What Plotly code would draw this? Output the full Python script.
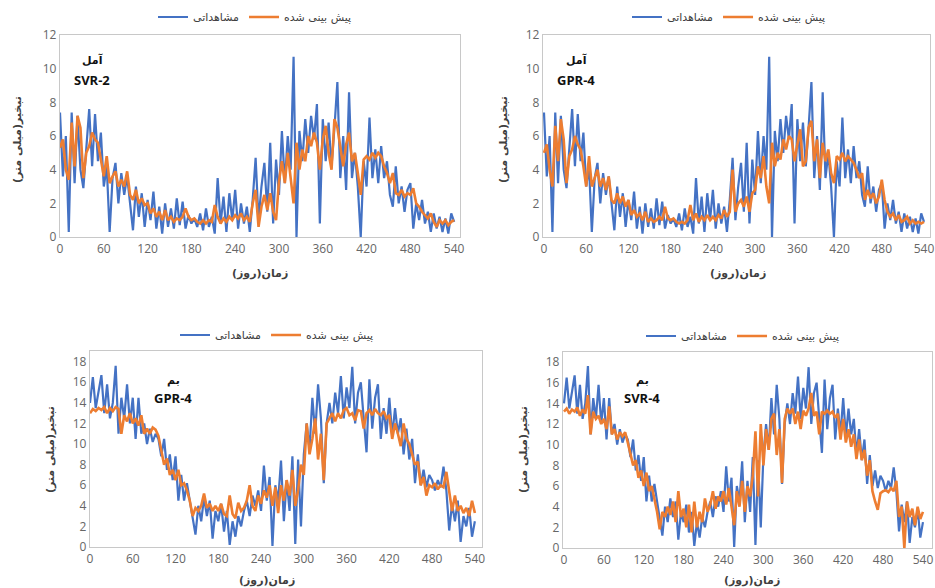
import plotly.graph_objects as go

W, H = 935, 588

# day index (sampled every 4 days)
days = list(range(0, 541, 4))

obs_amol = [7.4, 3.6, 6.0, 0.3, 7.4, 3.2, 7.2, 4.0, 2.9, 5.5, 7.6, 4.2, 7.3, 4.5, 6.2, 3.0, 4.2, 0.3, 3.5, 4.4,
            2.0, 3.8, 2.5, 3.6, 2.0, 0.4, 3.0, 1.2, 2.6, 0.6, 2.2, 1.0, 2.7, 0.5, 1.8, 0.2, 2.0, 0.6, 1.7, 0.5,
            2.3, 0.7, 2.1, 0.5, 1.3, 0.8, 1.1, 0.6, 1.4, 0.4, 1.7, 0.6, 1.2, 0.2, 3.5, 0.8, 2.4, 0.3, 2.6, 1.0,
            2.8, 0.5, 2.0, 0.8, 1.8, 0.3, 2.2, 4.7, 1.0, 3.0, 4.4, 1.5, 5.6, 0.8, 4.6, 2.5, 6.3, 3.2, 6.0, 4.0,
            10.7, 0.0, 6.3, 4.5, 7.0, 5.0, 7.2, 5.8, 7.9, 0.8, 7.0, 4.5, 6.8, 4.2, 6.5, 9.2, 3.5, 6.0, 2.8, 8.6,
            3.5, 5.0, 3.0, 0.0, 4.5, 3.0, 7.1, 3.5, 5.2, 3.2, 5.4, 3.5, 4.5, 2.5, 1.8, 4.2, 2.0, 3.0, 1.5, 2.8,
            3.2, 0.5, 2.0, 1.0, 2.2, 0.8, 1.5, 0.3, 1.4, 0.5, 1.2, 0.3, 1.1, 0.2, 1.4, 0.9]

pred_amol_svr2 = [5.3, 5.8, 4.0, 3.4, 6.8, 4.2, 7.2, 6.5, 3.5, 5.0, 5.4, 6.2, 5.8, 5.6, 4.6, 3.6, 4.8, 3.2, 3.6, 3.9,
                  3.0, 3.4, 3.0, 3.9, 2.5, 2.2, 2.8, 2.0, 2.3, 1.9, 2.0, 1.4, 1.7, 1.2, 1.5, 1.0, 1.6, 1.0, 1.2, 0.9,
                  1.1, 1.0, 1.2, 1.7, 1.2, 1.0, 1.1, 0.9, 0.8, 1.0, 0.8, 1.0, 0.9, 1.9, 1.2, 0.8, 1.1, 0.9, 1.2, 1.0,
                  1.3, 1.1, 1.4, 1.0, 1.2, 0.9, 2.0, 2.8, 0.6, 1.8, 2.5, 1.6, 2.6, 1.5, 1.0, 3.3, 4.5, 3.2, 5.0, 3.5,
                  2.0, 5.6, 4.0, 5.2, 4.5, 6.0, 5.4, 6.2, 5.6, 4.0, 5.8, 6.6, 5.0, 4.0, 7.0, 6.5, 5.2, 4.2, 5.5, 6.2,
                  4.5, 5.0, 3.8, 2.5, 4.6, 4.8, 4.6, 5.0, 4.7, 5.0, 4.8, 4.2, 3.8, 3.2, 3.8, 2.6, 2.5, 2.8, 2.4, 2.6,
                  2.5, 2.9, 2.0, 1.8, 1.5, 1.3, 1.1, 1.4, 0.9, 0.6, 1.0, 0.8, 1.0, 0.7, 0.9, 1.0]

pred_amol_gpr4 = [5.0, 5.5, 4.0, 3.0, 6.6, 4.5, 7.0, 5.8, 3.2, 4.8, 5.2, 6.0, 5.5, 5.2, 4.2, 3.0, 4.8, 3.0, 3.5, 4.0,
                  3.0, 3.5, 2.8, 3.6, 2.2, 2.0, 2.6, 2.0, 2.4, 1.8, 2.2, 1.3, 1.6, 1.2, 1.4, 1.0, 1.5, 0.9, 1.1, 0.9,
                  1.0, 1.2, 1.0, 1.8, 1.1, 1.0, 1.1, 0.9, 0.8, 0.9, 0.8, 1.0, 1.9, 1.0, 1.4, 0.9, 1.2, 1.0, 1.3, 1.0,
                  1.2, 1.0, 1.3, 1.1, 1.6, 1.2, 1.5, 4.0, 1.5, 2.0, 2.2, 1.8, 2.4, 1.5, 2.6, 2.8, 4.2, 3.5, 4.8, 3.0,
                  2.0, 5.6, 4.2, 5.0, 4.6, 5.8, 5.2, 6.0, 5.8, 4.5, 5.5, 6.4, 4.2, 4.5, 6.5, 6.9, 4.5, 5.8, 3.5, 5.6,
                  4.5, 5.2, 3.8, 3.2, 4.8, 4.6, 5.0, 4.5, 4.8, 4.6, 4.4, 4.0, 3.5, 3.8, 2.2, 2.8, 2.3, 2.6, 2.0, 2.4,
                  3.4, 2.2, 1.5, 1.2, 1.4, 1.0, 1.3, 0.9, 1.0, 1.2, 0.8, 1.0, 0.8, 0.9, 0.8, 0.9]

obs_bam = [14.0, 16.5, 13.5, 15.0, 16.7, 13.0, 15.8, 12.5, 14.0, 17.6, 11.0, 14.5, 12.5, 15.8, 12.0, 14.5, 10.5, 14.5, 11.0, 12.0,
           10.0, 11.5, 10.2, 11.0, 10.5, 8.8, 10.5, 7.5, 9.0, 6.5, 8.8, 4.5, 7.0, 4.5, 6.2, 4.5, 3.0, 1.2, 4.0, 2.5,
           4.8, 3.0, 4.5, 0.8, 3.5, 2.5, 4.2, 1.5, 3.5, 0.2, 2.5, 1.0, 3.0, 2.0, 3.5, 4.5, 3.0, 5.0, 4.0, 5.5,
           3.5, 7.9, 4.5, 6.8, 0.1, 6.0, 4.5, 8.4, 2.5, 6.5, 3.5, 8.8, 0.3, 8.5, 2.0, 9.0, 12.0, 9.5, 14.5, 11.0,
           15.8, 12.5, 6.2, 12.0, 14.0, 12.0, 15.0, 13.0, 16.6, 12.5, 15.5, 13.5, 17.5, 12.0, 15.0, 16.0, 12.5, 9.2, 16.3, 11.5,
           14.5, 15.8, 10.5, 13.5, 11.0, 14.5, 10.8, 13.5, 11.0, 12.5, 9.0, 11.5, 8.5, 10.5, 6.2, 9.0, 6.0, 7.5, 5.8, 7.0,
           6.5, 5.5, 6.5, 5.8, 7.8, 5.5, 1.6, 4.2, 2.5, 4.5, 0.5, 3.0, 2.0, 3.8, 1.0, 2.5]

pred_bam_gpr4 = [13.0, 13.4, 13.2, 13.5, 13.3, 13.6, 13.0, 13.5, 13.2, 13.6, 13.4, 11.0, 12.8, 12.2, 13.0, 12.0, 12.5, 11.8, 12.8, 11.0,
                 11.5, 11.0, 11.6, 11.4, 10.8, 9.5, 8.0, 8.6, 7.0, 7.5, 6.5, 7.5, 6.0, 6.2, 5.5, 4.5, 3.0, 3.8, 3.5, 4.0,
                 5.2, 3.8, 4.2, 3.5, 4.0, 3.5, 4.2, 3.2, 3.0, 5.0, 3.2, 2.8, 4.3, 3.5, 3.8, 4.5, 6.0, 4.0, 3.5, 5.0,
                 4.2, 5.5, 4.8, 6.0, 4.0, 5.8, 3.3, 6.0, 4.5, 6.5, 5.0, 7.5, 4.0, 5.5, 8.0, 7.0, 12.0, 9.0, 10.5, 12.5,
                 8.5, 11.0, 6.5, 12.0, 12.5, 13.0, 12.2, 13.0, 12.5, 13.3, 13.5, 12.8, 13.0, 12.3, 13.3, 13.2, 11.5, 13.0, 13.3, 12.8,
                 13.4, 13.0, 12.8, 13.2, 12.5, 12.8, 10.5, 12.0, 11.0, 9.8, 12.0, 10.5, 10.0, 9.0, 8.0, 8.3, 6.0, 6.8, 5.0, 6.0,
                 5.8, 6.2, 5.6, 6.0, 5.8, 7.3, 5.5, 3.5, 5.0, 3.5, 4.0, 3.3, 3.8, 3.0, 4.5, 3.3]

pred_bam_svr4 = [13.2, 13.5, 13.0, 13.4, 13.2, 13.6, 12.8, 13.4, 13.0, 14.8, 11.0, 13.2, 12.5, 12.8, 12.0, 12.5, 11.5, 13.7, 11.0, 11.5,
                 10.5, 11.2, 10.8, 11.2, 10.2, 9.0, 8.0, 8.5, 6.8, 7.5, 6.0, 7.3, 5.5, 6.0, 4.8, 3.5, 1.8, 3.5, 3.0, 4.0,
                 3.2, 4.5, 2.5, 5.5, 3.0, 3.8, 2.0, 4.2, 1.5, 4.5, 2.0, 3.5, 2.5, 4.8, 3.5, 4.2, 5.5, 3.8, 5.0, 4.5,
                 5.5, 4.2, 5.8, 4.0, 2.2, 5.5, 4.0, 6.5, 3.5, 6.0, 5.0, 7.0, 11.3, 5.0, 12.0, 8.0, 11.5, 9.5, 12.5, 13.0,
                 9.0, 11.5, 6.3, 12.5, 13.5, 13.0, 13.5, 12.0, 13.2, 11.5, 13.3, 12.8, 13.5, 15.0, 12.8, 13.2, 11.0, 13.2, 13.0, 13.3,
                 13.0, 13.2, 12.6, 13.0, 10.5, 12.5, 10.2, 11.5, 9.8, 11.0, 8.6, 10.5, 8.5, 9.5, 7.0, 8.5, 5.5, 4.5, 3.7, 5.3,
                 5.5, 5.6, 5.4, 5.8, 5.5, 6.5, 3.0, 4.0, 0.0, 4.5, 3.0, 3.8, 2.2, 4.0, 2.8, 3.5]

x_ticks = [0, 60, 120, 180, 240, 300, 360, 420, 480, 540]
y_ticks_amol = [0, 2, 4, 6, 8, 10, 12]
y_ticks_bam = [0, 2, 4, 6, 8, 10, 12, 14, 16, 18]

name_obs = "مشاهداتی"
name_pred = "پیش بینی شده"
station_amol = "آمل"
station_bam = "بم"
x_title = "زمان(روز)"
y_title = "تبخیر(میلی متر)"

BLUE = "#4472C4"
ORANGE = "#ED7D31"

def px_x(p):
    return p / W

def px_y(p):
    return 1 - p / H

panels = [
    dict(ax="", leg="legend", obs=obs_amol, pred=pred_amol_svr2, st=station_amol, model="SVR-2",
         box=(60, 460, 35, 237), xr=[0, 548], yr=[0, 12], yt=y_ticks_amol,
         lab=(92, 60, 80), legp=(255, 17), yt_px=(17, 140), xt_px=(260, 273)),
    dict(ax="2", leg="legend2", obs=obs_amol, pred=pred_amol_gpr4, st=station_amol, model="GPR-4",
         box=(543, 930, 35, 237), xr=[-1.4, 548.5], yr=[0, 12], yt=y_ticks_amol,
         lab=(576, 60, 80), legp=(729, 17), yt_px=(503, 140), xt_px=(738, 273)),
    dict(ax="3", leg="legend3", obs=obs_bam, pred=pred_bam_gpr4, st=station_bam, model="GPR-4",
         box=(90, 482, 351, 547), xr=[0, 550], yr=[0, 19.04], yt=y_ticks_bam,
         lab=(173, 380, 398), legp=(277, 335), yt_px=(50, 450), xt_px=(267, 580)),
    dict(ax="4", leg="legend4", obs=obs_bam, pred=pred_bam_svr4, st=station_bam, model="SVR-4",
         box=(563, 932, 352, 548), xr=[-1.5, 553.6], yr=[0, 18.97], yt=y_ticks_bam,
         lab=(642, 380, 398), legp=(743, 336), yt_px=(523, 450), xt_px=(752, 580)),
]

fig = go.Figure()
annotations = []
layout = dict(width=W, height=H, margin=dict(l=0, r=0, t=0, b=0, pad=0, autoexpand=False),
              paper_bgcolor="white", plot_bgcolor="white", showlegend=True)

for p in panels:
    xa = "x" + p["ax"]
    ya = "y" + p["ax"]
    fig.add_trace(go.Scatter(x=days, y=p["obs"], mode="lines", name=name_obs,
                             line=dict(color=BLUE, width=2.2), xaxis=xa, yaxis=ya, legend=p["leg"]))
    fig.add_trace(go.Scatter(x=days, y=p["pred"], mode="lines", name=name_pred,
                             line=dict(color=ORANGE, width=2.6), xaxis=xa, yaxis=ya, legend=p["leg"]))
    x0, x1, y0, y1 = p["box"]
    layout["xaxis" + p["ax"]] = dict(
        domain=[px_x(x0), min(1.0, px_x(x1))], range=p["xr"], anchor=ya, automargin=False,
        tickvals=x_ticks, ticktext=[str(v) for v in x_ticks], showgrid=False, zeroline=False,
        showline=True, mirror=True, linecolor="#C8C8C8", linewidth=1.3, ticks="",
        ticklabeloverflow="allow",
        tickfont=dict(family="Open Sans", size=12, color="#666666"))
    layout["yaxis" + p["ax"]] = dict(
        domain=[px_y(y1), px_y(y0)], range=p["yr"], anchor=xa, automargin=False,
        tickvals=p["yt"], showgrid=False, zeroline=False,
        showline=True, mirror=True, linecolor="#C8C8C8", linewidth=1.3, ticks="",
        ticklabeloverflow="allow",
        tickfont=dict(family="Open Sans", size=12, color="#666666"))
    lx, ly = p["legp"]
    layout[p["leg"]] = dict(x=px_x(lx), y=px_y(ly), xanchor="center", yanchor="middle",
                            orientation="h", bgcolor="rgba(0,0,0,0)", itemwidth=30,
                            font=dict(family="DejaVu Sans", size=11, color="#404040"),
                            tracegroupgap=0)
    cx, cy1, cy2 = p["lab"]
    annotations.append(dict(x=px_x(cx), y=px_y(cy1), xref="paper", yref="paper", text="<b>" + p["st"] + "</b>",
                            showarrow=False, xanchor="center", yanchor="middle",
                            font=dict(family="DejaVu Sans", size=11, color="#111111")))
    annotations.append(dict(x=px_x(cx), y=px_y(cy2), xref="paper", yref="paper", text="<b>" + p["model"] + "</b>",
                            showarrow=False, xanchor="center", yanchor="middle",
                            font=dict(family="Open Sans", size=13, color="#111111")))
    tx, ty = p["yt_px"]
    annotations.append(dict(x=px_x(tx), y=px_y(ty), xref="paper", yref="paper", text="<b>" + y_title + "</b>",
                            showarrow=False, textangle=-90, xanchor="center", yanchor="middle",
                            font=dict(family="DejaVu Sans", size=11, color="#404040")))
    qx, qy = p["xt_px"]
    annotations.append(dict(x=px_x(qx), y=px_y(qy), xref="paper", yref="paper", text="<b>" + x_title + "</b>",
                            showarrow=False, xanchor="center", yanchor="middle",
                            font=dict(family="DejaVu Sans", size=11, color="#404040")))

layout["annotations"] = annotations
fig.update_layout(**layout)
fig.write_html("out.html", config={"displayModeBar": False},
               post_script="document.body.style.margin='0px';document.body.style.padding='0px';"
                           "document.body.style.overflow='hidden';")
